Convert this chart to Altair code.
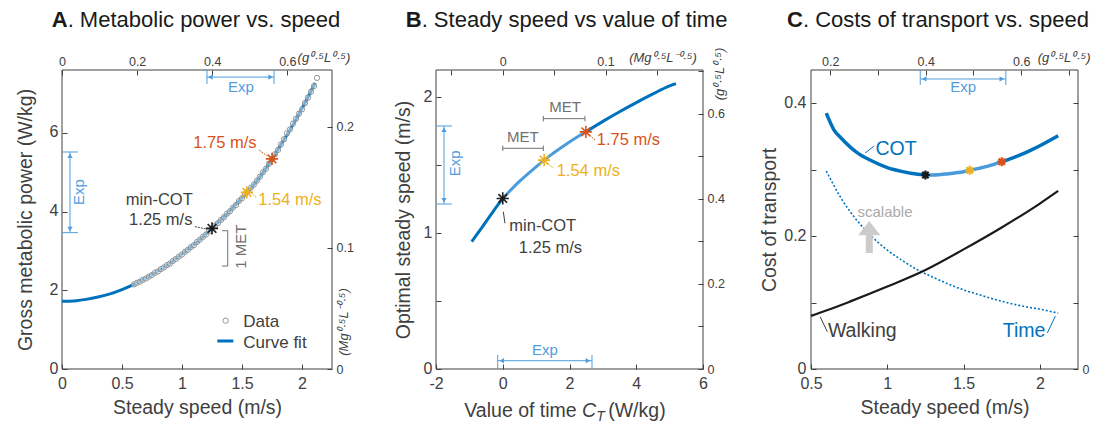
import altair as alt
import pandas as pd

# ---------------- values ----------------
# Panel A: gross metabolic power vs steady speed
A_fit_speed = [0.0, 0.1, 0.2, 0.3, 0.4, 0.5, 0.6, 0.7, 0.8, 0.9, 1.0, 1.1, 1.2, 1.3,
               1.4, 1.5, 1.6, 1.7, 1.8, 1.9, 2.0, 2.11]
A_fit_power = [1.72, 1.73, 1.77, 1.83, 1.91, 2.02, 2.15, 2.31, 2.49, 2.69, 2.92, 3.16,
               3.43, 3.72, 4.02, 4.35, 4.69, 5.10, 5.58, 6.08, 6.62, 7.27]
A_data_speed = [0.600, 0.625, 0.650, 0.675, 0.700, 0.725, 0.750, 0.775, 0.800, 0.825,
                0.850, 0.875, 0.900, 0.925, 0.950, 0.975, 1.000, 1.025, 1.050, 1.075,
                1.100, 1.125, 1.150, 1.175, 1.200, 1.225, 1.250, 1.275, 1.300, 1.325,
                1.350, 1.375, 1.400, 1.425, 1.450, 1.475, 1.500, 1.525, 1.550, 1.575,
                1.600, 1.625, 1.650, 1.675, 1.700, 1.725, 1.750, 1.775, 1.800, 1.825,
                1.850, 1.875, 1.900, 1.925, 1.950, 1.975, 2.000, 2.025, 2.050, 2.075,
                2.100, 2.125]
A_data_power = [2.15, 2.19, 2.22, 2.27, 2.30, 2.35, 2.39, 2.45, 2.48, 2.54,
                2.58, 2.64, 2.68, 2.75, 2.80, 2.86, 2.91, 2.98, 3.03, 3.10,
                3.15, 3.23, 3.29, 3.36, 3.42, 3.50, 3.57, 3.64, 3.71, 3.79,
                3.86, 3.95, 4.01, 4.10, 4.17, 4.27, 4.34, 4.44, 4.52, 4.61,
                4.69, 4.79, 4.89, 5.00, 5.09, 5.22, 5.33, 5.46, 5.57, 5.71,
                5.84, 5.99, 6.09, 6.24, 6.36, 6.49, 6.60, 6.76, 6.90, 7.05,
                7.19, 7.40]
star_speed = [1.25, 1.54, 1.75]
A_star_power = [3.575, 4.49, 5.34]

# Panel B: optimal steady speed vs value of time C_T
B_ct = [-0.93, -0.6, -0.3, 0.0, 0.5, 1.0, 1.24, 1.5, 2.0, 2.49, 3.0, 3.5, 4.0, 4.5, 5.0, 5.19]
B_speed = [0.937, 1.05, 1.155, 1.255, 1.380, 1.488, 1.537, 1.585, 1.670, 1.745,
           1.822, 1.893, 1.960, 2.024, 2.083, 2.100]
B_star_ct = [0.0, 1.24, 2.49]
B_star_speed = [1.255, 1.537, 1.745]

# Panel C: costs of transport vs speed
C_cot_speed = [0.6, 0.65, 0.7, 0.8, 0.9, 1.0, 1.1, 1.2, 1.25, 1.3, 1.4, 1.5, 1.54, 1.6,
               1.7, 1.75, 1.8, 1.9, 2.0, 2.12]
C_cot = [0.385, 0.360, 0.347, 0.326, 0.313, 0.303, 0.297, 0.293, 0.292, 0.292, 0.294,
         0.297, 0.299, 0.302, 0.308, 0.312, 0.316, 0.325, 0.336, 0.351]
C_walk_speed = [0.5, 0.6, 0.75, 1.0, 1.25, 1.5, 1.75, 2.0, 2.12]
C_walk = [0.080, 0.088, 0.101, 0.124, 0.149, 0.180, 0.213, 0.249, 0.268]
C_time_speed = [0.6, 0.7, 0.8, 0.9, 1.0, 1.1, 1.2, 1.3, 1.4, 1.5, 1.6, 1.7, 1.8, 1.9, 2.0, 2.12]
C_time = [0.298, 0.256, 0.224, 0.199, 0.179, 0.163, 0.149, 0.138, 0.128, 0.119, 0.112,
          0.105, 0.099, 0.094, 0.090, 0.084]
C_star_cot = [0.292, 0.299, 0.312]

# tick values
A_xticks = [0, 0.5, 1, 1.5, 2]
A_yticks = [0, 2, 4, 6]
A_top_ticks = [0, 0.626, 1.252, 1.878]
A_right_ticks = [0, 3.08, 6.16]
B_xticks = [-2, 0, 2, 4, 6]
B_yticks = [0, 0.5, 1, 1.5, 2]
B_top_ticks = [-1.54, 0, 1.54, 3.08, 4.62]
B_right_ticks = [0, 0.313, 0.626, 0.939, 1.252, 1.565, 1.878, 2.191]
C_xticks = [0.5, 1, 1.5, 2]
C_yticks = [0, 0.1, 0.2, 0.3, 0.4]
C_top_ticks = [0.626, 0.939, 1.252, 1.565, 1.878, 2.191]
C_right_ticks = [0, 0.1, 0.2, 0.3, 0.4]

# ---------------- layout & style ----------------
W, H = 1110, 424
TS = 5
FONT = "Liberation Sans"
DARK = "#404040"
BLUE = "#0072BD"
LBLUE = "#4A9BDB"
EXP = "#4F9DDE"
RED = "#D95319"
YEL = "#EDB120"
BLACK = "#1a1a1a"
GRAY = "#707070"
STAR = "M-1,0L1,0M0,-1L0,1M-0.71,-0.71L0.71,0.71M-0.71,0.71L0.71,-0.71"
ARROW = "M0,-1L0.7,-0.1L0.22,-0.1L0.22,1L-0.22,1L-0.22,-0.1L-0.7,-0.1Z"
G05 = "(g⁰·⁵L⁰·⁵)"
M05 = "(Mg⁰·⁵L⁻⁰·⁵)"

PANELS = {
    "A": {"xd": [0, 2.25], "yd": [0, 7.6], "box": (62, 332, 70, 369)},
    "B": {"xd": [-2, 6], "yd": [0, 2.2], "box": (436, 703, 70, 369)},
    "C": {"xd": [0.5, 2.25], "yd": [0, 0.45], "box": (811, 1078, 70, 369)},
}


def xenc(p, axis=None, field="x"):
    d = PANELS[p]
    x0, x1, y0, y1 = d["box"]
    return alt.X(f"{field}:Q", axis=axis,
                 scale=alt.Scale(domain=d["xd"], range=[x0, x1], nice=False, zero=False))


def yenc(p, axis=None, field="y"):
    d = PANELS[p]
    x0, x1, y0, y1 = d["box"]
    return alt.Y(f"{field}:Q", axis=axis,
                 scale=alt.Scale(domain=d["yd"], range=[y1, y0], nice=False, zero=False))


def make_axis(p, orient, values, title=None, fmt=None, expr=None, size=16, pad=4, tpad=None, loff=0):
    x0, x1, y0, y1 = PANELS[p]["box"]
    off = {"bottom": -(H - y1), "top": -y0, "left": -x0, "right": -(W - x1)}[orient] - TS
    kw = dict(orient=orient, offset=off, values=values, tickSize=TS, domain=False, grid=False,
              labelFlush=False, labelOverlap=False, labelFont=FONT, labelFontSize=size,
              labelColor=DARK, tickColor=DARK, tickWidth=1, labelPadding=pad,
              titleFont=FONT, titleFontSize=19.5, titleFontWeight="normal", titleColor=DARK,
              title=title)
    if fmt:
        kw["format"] = fmt
    if expr:
        kw["labelExpr"] = expr
    if tpad is not None:
        kw["titlePadding"] = tpad
    if loff:
        kw["labelOffset"] = loff
    return alt.Axis(**kw)


def frame(p, bottom, left):
    d = PANELS[p]
    df = pd.DataFrame({"x": [d["xd"][0]], "x2": [d["xd"][1]], "y": [d["yd"][0]], "y2": [d["yd"][1]]})
    return alt.Chart(df).mark_rect(fillOpacity=0, stroke=DARK, strokeWidth=1).encode(
        x=xenc(p, bottom), x2="x2:Q", y=yenc(p, left), y2="y2:Q")


def secondary(p, top, right):
    d = PANELS[p]
    df = pd.DataFrame({"x": d["xd"], "y": d["yd"]})
    return alt.Chart(df).mark_point(opacity=0).encode(x=xenc(p, top), y=yenc(p, right))


def line(p, xs, ys, color, width, dash=None, interp="monotone"):
    df = pd.DataFrame({"x": xs, "y": ys, "o": list(range(len(xs)))})
    kw = dict(color=color, strokeWidth=width, interpolate=interp)
    if dash:
        kw["strokeDash"] = dash
    return alt.Chart(df).mark_line(**kw).encode(x=xenc(p), y=yenc(p), order="o:Q")


def points(p, xs, ys, **mk):
    df = pd.DataFrame({"x": xs, "y": ys})
    return alt.Chart(df).mark_point(opacity=1, **mk).encode(x=xenc(p), y=yenc(p))


def seg(p, xa, ya, xb, yb, color, width=1.0, dash=None):
    df = pd.DataFrame({"x": [xa], "y": [ya], "x2": [xb], "y2": [yb]})
    kw = dict(color=color, strokeWidth=width)
    if dash:
        kw["strokeDash"] = dash
    return alt.Chart(df).mark_rule(**kw).encode(x=xenc(p), y=yenc(p), x2="x2:Q", y2="y2:Q")


def txt(p, x, y, s, color=DARK, size=16.5, align="center", baseline="alphabetic", angle=0,
        weight="normal", style="normal"):
    df = pd.DataFrame({"x": [x], "y": [y], "t": [s]})
    return alt.Chart(df).mark_text(align=align, baseline=baseline, angle=angle, font=FONT,
                                   fontSize=size, color=color, fontWeight=weight,
                                   fontStyle=style).encode(x=xenc(p), y=yenc(p), text="t:N")


def stars(p, xs, ys, size, width):
    out = []
    for x, y, c in zip(xs, ys, [BLACK, YEL, RED]):
        out.append(points(p, [x], [y], shape=STAR, filled=False, size=size, strokeWidth=width, color=c))
    return out


def tri(p, x, y, shape, color):
    return points(p, [x], [y], shape=shape, filled=True, size=28, color=color, strokeWidth=0)


layers = []

# ======================= Panel A =======================
layers.append(frame("A",
                    make_axis("A", "bottom", A_xticks, "Steady speed (m/s)", fmt="~g", pad=6, tpad=7),
                    make_axis("A", "left", A_yticks, "Gross metabolic power (W/kg)", fmt="d", pad=4, tpad=14, loff=-1)))
layers.append(secondary("A",
                        make_axis("A", "top", A_top_ticks, expr="datum.value == 0 ? '0' : format(datum.value / 3.13, '.1f')", size=12.5, pad=2),
                        make_axis("A", "right", A_right_ticks, expr="datum.value == 0 ? '0' : format(datum.value / 30.8, '.1f')", size=12.5, pad=4)))
layers.append(line("A", A_fit_speed, A_fit_power, BLUE, 3))
layers.append(points("A", A_data_speed, A_data_power, shape="circle", size=28, fill="white",
                     fillOpacity=0.45, stroke="#8a8a8a", strokeWidth=0.9))
layers += stars("A", star_speed, A_star_power, 150, 1.6)
# titles
layers.append(txt("A", 0.047, 8.693, "A", color=BLACK, size=22, align="right", weight="bold"))
layers.append(txt("A", 0.047, 8.693, ". Metabolic power vs. speed", color=BLACK, size=22, align="left"))
layers.append(txt("A", 2.183, 7.804, G05, size=13, style="italic"))
layers.append(txt("A", 2.35, 1.195, M05, size=13, angle=270, baseline="middle", style="italic"))
# Exp (top)
layers.append(seg("A", 1.208, 7.42, 1.767, 7.42, EXP))
layers.append(seg("A", 1.208, 7.245, 1.208, 7.6, EXP))
layers.append(seg("A", 1.767, 7.245, 1.767, 7.6, EXP))
layers.append(tri("A", 1.236, 7.42, "triangle-left", EXP))
layers.append(tri("A", 1.739, 7.42, "triangle-right", EXP))
layers.append(txt("A", 1.49, 7.04, "Exp", color=EXP, size=15))
# Exp (left)
layers.append(seg("A", 0.0667, 3.465, 0.0667, 5.516, EXP))
layers.append(seg("A", 0.0, 3.465, 0.133, 3.465, EXP))
layers.append(seg("A", 0.0, 5.516, 0.133, 5.516, EXP))
layers.append(tri("A", 0.0667, 5.42, "triangle-up", EXP))
layers.append(tri("A", 0.0667, 3.56, "triangle-down", EXP))
layers.append(txt("A", 0.142, 4.50, "Exp", color=EXP, size=15, angle=270, baseline="middle"))
# 1 MET bracket
layers.append(seg("A", 1.381, 2.618, 1.381, 3.515, GRAY))
layers.append(seg("A", 1.333, 2.618, 1.381, 2.618, GRAY))
layers.append(seg("A", 1.333, 3.515, 1.381, 3.515, GRAY))
layers.append(txt("A", 1.49, 3.109, "1 MET", color=GRAY, size=15, angle=270, baseline="middle"))
# star labels
layers.append(txt("A", 1.358, 5.61, "1.75 m/s", color=RED))
layers.append(seg("A", 1.642, 5.567, 1.708, 5.414, RED, dash=[2, 1]))
layers.append(txt("A", 1.636, 4.169, "1.54 m/s", color=YEL, align="left"))
layers.append(seg("A", 1.567, 4.499, 1.625, 4.347, YEL, dash=[2, 1]))
layers.append(txt("A", 0.811, 4.169, "min-COT"))
layers.append(txt("A", 0.823, 3.66, "1.25 m/s"))
layers.append(seg("A", 1.108, 3.62, 1.20, 3.559, DARK, dash=[2, 1]))
# legend
layers.append(points("A", [1.364], [1.228], shape="circle", size=28, fill="white", stroke="#8a8a8a", strokeWidth=0.9))
layers.append(txt("A", 1.511, 1.075, "Data", size=17, align="left"))
layers.append(seg("A", 1.294, 0.712, 1.428, 0.712, BLUE, width=3))
layers.append(txt("A", 1.511, 0.541, "Curve fit", size=17, align="left"))

# ======================= Panel B =======================
layers.append(frame("B",
                    make_axis("B", "bottom", B_xticks, pad=6,
                              expr="datum.value < 0 ? '-' + format(-datum.value, 'd') : format(datum.value, 'd')"),
                    make_axis("B", "left", B_yticks, "Optimal steady speed (m/s)", pad=4, tpad=10, loff=-1,
                              expr="datum.value % 1 == 0 ? format(datum.value, 'd') : ''")))
layers.append(secondary("B",
                        make_axis("B", "top", B_top_ticks, size=12.5, pad=2,
                                  expr="abs(datum.value) < 0.01 ? '0' : (abs(datum.value - 3.08) < 0.01 ? '0.1' : '')"),
                        make_axis("B", "right", B_right_ticks, size=12.5, pad=4,
                                  expr="datum.value == 0 ? '0' : (round(datum.value / 0.313) % 2 == 0 ? format(datum.value / 3.13, '.1f') : '')")))
layers.append(line("B", B_ct[:4], B_speed[:4], BLUE, 3))
layers.append(line("B", B_ct[3:10], B_speed[3:10], LBLUE, 3))
layers.append(line("B", B_ct[9:], B_speed[9:], BLUE, 3))
layers += stars("B", B_star_ct, B_star_speed, 150, 1.6)
layers.append(txt("B", -2.43, 2.517, "B", color=BLACK, size=22, align="right", weight="bold"))
layers.append(txt("B", -2.43, 2.517, ". Steady speed vs value of time", color=BLACK, size=22, align="left"))
layers.append(txt("B", 4.80, 2.259, M05, size=13, style="italic"))
layers.append(txt("B", 6.51, 2.171, G05, size=13, angle=270, baseline="middle", style="italic"))
# x-axis title pieces
layers.append(txt("B", 2.215, -0.351, "Value of time", size=19.5, align="right"))
layers.append(txt("B", 2.375, -0.351, "C", size=19.5, align="left", style="italic"))
layers.append(txt("B", 2.80, -0.38, "T", size=14, align="left", style="italic"))
layers.append(txt("B", 3.16, -0.351, "(W/kg)", size=19.5, align="left"))
# Exp (left)
layers.append(seg("B", -1.76, 1.214, -1.76, 1.788, EXP))
layers.append(seg("B", -2.0, 1.214, -1.52, 1.214, EXP))
layers.append(seg("B", -2.0, 1.788, -1.52, 1.788, EXP))
layers.append(tri("B", -1.76, 1.76, "triangle-up", EXP))
layers.append(tri("B", -1.76, 1.242, "triangle-down", EXP))
layers.append(txt("B", -1.43, 1.514, "Exp", color=EXP, size=15, angle=270, baseline="middle"))
# Exp (bottom)
layers.append(seg("B", -0.151, 0.061, 2.674, 0.061, EXP))
layers.append(seg("B", -0.151, 0.0, -0.151, 0.103, EXP))
layers.append(seg("B", 2.674, 0.0, 2.674, 0.103, EXP))
layers.append(tri("B", -0.03, 0.061, "triangle-left", EXP))
layers.append(tri("B", 2.553, 0.061, "triangle-right", EXP))
layers.append(txt("B", 1.266, 0.103, "Exp", color=EXP, size=15))
# MET brackets
layers.append(seg("B", 1.215, 1.842, 2.464, 1.842, GRAY))
layers.append(seg("B", 1.215, 1.822, 1.215, 1.862, GRAY))
layers.append(seg("B", 2.464, 1.822, 2.464, 1.862, GRAY))
layers.append(txt("B", 1.865, 1.894, "MET", color=GRAY, size=15))
layers.append(seg("B", 0.0, 1.624, 1.215, 1.624, GRAY))
layers.append(seg("B", 0.0, 1.604, 0.0, 1.644, GRAY))
layers.append(seg("B", 1.215, 1.604, 1.215, 1.644, GRAY))
layers.append(txt("B", 0.598, 1.668, "MET", color=GRAY, size=15))
# star labels
layers.append(txt("B", 2.815, 1.648, "1.75 m/s", color=RED, align="left"))
layers.append(seg("B", 2.524, 1.737, 2.764, 1.685, RED, dash=[2, 1]))
layers.append(txt("B", 1.616, 1.422, "1.54 m/s", color=YEL, align="left"))
layers.append(seg("B", 1.296, 1.516, 1.536, 1.479, YEL, dash=[2, 1]))
layers.append(txt("B", 0.196, 1.018, "min-COT", align="left"))
layers.append(txt("B", 1.43, 0.851, "1.25 m/s"))
layers.append(seg("B", 0.017, 1.157, 0.067, 1.072, DARK))

# ======================= Panel C =======================
layers.append(frame("C",
                    make_axis("C", "bottom", C_xticks, "Steady speed (m/s)", fmt="~g", pad=6, tpad=7),
                    make_axis("C", "left", C_yticks, "Cost of transport", pad=5, tpad=4, loff=-1,
                              expr="datum.value == 0 ? '0' : (round(datum.value * 10) % 2 == 0 ? format(datum.value, '.1f') : '')")))
layers.append(secondary("C",
                        make_axis("C", "top", C_top_ticks, size=12.5, pad=2,
                                  expr="round(datum.value / 0.313) % 2 == 0 ? format(datum.value / 3.13, '.1f') : ''"),
                        make_axis("C", "right", C_right_ticks, size=12.5, pad=4,
                                  expr="datum.value == 0 ? '0' : ''")))
layers.append(line("C", C_time_speed, C_time, BLUE, 1.6, dash=[2, 2]))
layers.append(line("C", C_walk_speed, C_walk, BLACK, 2.2))
layers.append(line("C", C_cot_speed[:9], C_cot[:9], BLUE, 3.5))
layers.append(line("C", C_cot_speed[8:16], C_cot[8:16], LBLUE, 3.5))
layers.append(line("C", C_cot_speed[15:], C_cot[15:], BLUE, 3.5))
layers += stars("C", star_speed, C_star_cot, 80, 2.2)
layers.append(txt("C", 0.447, 0.5148, "C", color=BLACK, size=22, align="right", weight="bold"))
layers.append(txt("C", 0.447, 0.5148, ". Costs of transport vs. speed", color=BLACK, size=22, align="left"))
layers.append(txt("C", 2.159, 0.462, G05, size=13, style="italic"))
# Exp (top)
layers.append(seg("C", 1.216, 0.4365, 1.777, 0.4365, EXP))
layers.append(seg("C", 1.216, 0.4275, 1.216, 0.45, EXP))
layers.append(seg("C", 1.777, 0.4275, 1.777, 0.45, EXP))
layers.append(tri("C", 1.242, 0.4365, "triangle-left", EXP))
layers.append(tri("C", 1.751, 0.4365, "triangle-right", EXP))
layers.append(txt("C", 1.498, 0.417, "Exp", color=EXP, size=15))
# curve labels
layers.append(txt("C", 1.057, 0.322, "COT", color=BLUE, size=19.5))
layers.append(seg("C", 0.855, 0.3251, 0.914, 0.3356, BLUE))
layers.append(txt("C", 0.611, 0.0486, "Walking", size=19.5, align="left"))
layers.append(seg("C", 0.560, 0.0787, 0.607, 0.0561, DARK))
layers.append(txt("C", 2.036, 0.0486, "Time", color=BLUE, size=19.5, align="right"))
layers.append(seg("C", 2.102, 0.0798, 2.049, 0.0542, BLUE))
# scalable arrow
layers.append(points("C", [0.882], [0.1987], shape=ARROW, filled=True, size=1024, color="#CCCCCC", strokeWidth=0))
layers.append(txt("C", 0.985, 0.2292, "scalable", color="#AAAAAA", size=15))

chart = alt.layer(*layers).resolve_scale(x="independent", y="independent").properties(
    width=W, height=H, autosize=alt.AutoSizeParams(type="none"), padding=0
).configure_view(stroke=None)

chart.save("out.html", embed_options={"renderer": "svg", "actions": False})
